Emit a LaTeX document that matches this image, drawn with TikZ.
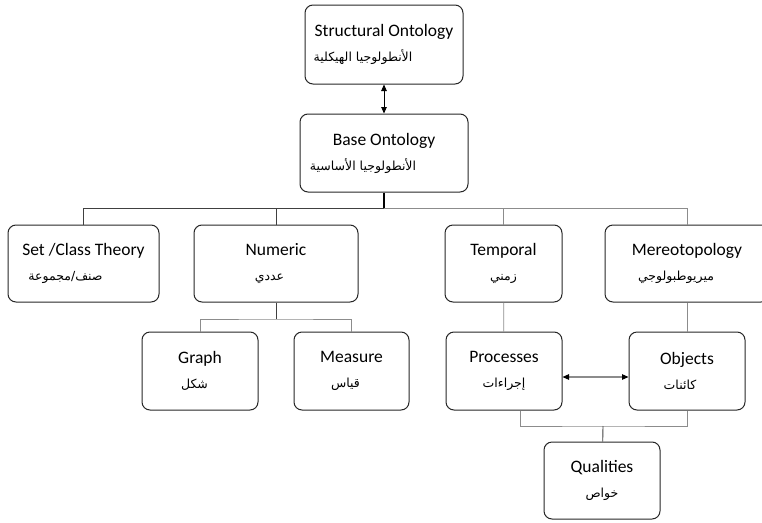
\documentclass[tikz,border=0pt]{standalone}
\usepackage{fontspec}
\setmainfont{Carlito}
\newfontfamily\arabicfont[Script=Arabic]{DejaVu Sans}
\TeXXeTstate=1
\usetikzlibrary{arrows.meta}

% English title over its Arabic name; #1 moves the Arabic line to the left
\newcommand\ontlabel[3][0pt]{#2\\[3pt]{\arabicfont\fontsize{12.5}{14}\selectfont #3}\kern#1}

\begin{document}
\begin{tikzpicture}[x=1pt,y=-1pt,
	onto/.style={draw=black!85,line width=1pt,rounded corners=8pt,align=center,
		font=\fontsize{17.5}{22}\selectfont},
	trunk/.style={draw=black,line width=1.7pt},
	link/.style={draw=black!75,line width=0.9pt},
	lightlink/.style={draw=black!45,line width=0.8pt},
	tips/.style={{Triangle[length=6.5pt,width=5.5pt,color=black]}-{Triangle[length=6.5pt,width=5.5pt,color=black]}}]
	\useasboundingbox (0,0) rectangle (762,522);
	\node [onto,minimum width=158pt,minimum height=79pt] (structural) at (384,44.5) {\ontlabel[42pt]{Structural Ontology}{\beginR الأنطولوجيا الهيكلية\endR}};
	\node [onto,minimum width=168pt,minimum height=78pt] (base) at (384,153) {\ontlabel[42pt]{Base Ontology}{\beginR الأنطولوجيا الأساسية\endR}};
	\node [onto,minimum width=151pt,minimum height=77pt] (set) at (83.5,263.5) {\ontlabel[36pt]{Set /Class Theory}{\beginR صنف/مجموعة\endR}};
	\node [onto,minimum width=164pt,minimum height=77pt] (numeric) at (276,263.5) {\ontlabel[13pt]{Numeric}{\beginR عددي\endR}};
	\node [onto,minimum width=117pt,minimum height=77pt] (temporal) at (503.5,263.5) {\ontlabel{Temporal}{\beginR زمني\endR}};
	\node [onto,minimum width=164pt,minimum height=77pt] (mereo) at (687,263.5) {\ontlabel[22pt]{Mereotopology}{\beginR ميريوطبولوجي\endR}};
	\node [onto,minimum width=116pt,minimum height=78pt] (graph) at (200,371) {\ontlabel[11pt]{Graph}{\beginR شكل\endR}};
	\node [onto,minimum width=115pt,minimum height=78pt] (measure) at (351.5,371) {\ontlabel[12pt]{Measure}{\beginR قياس\endR}};
	\node [onto,minimum width=116pt,minimum height=78pt] (processes) at (504,371) {\ontlabel{Processes}{\beginR إجراءات\endR}};
	\node [onto,minimum width=116pt,minimum height=78pt] (objects) at (687,371) {\ontlabel[14pt]{Objects}{\beginR كائنات\endR}};
	\node [onto,minimum width=116pt,minimum height=77pt] (qualities) at (602,480.5) {\ontlabel{Qualities}{\beginR خواص\endR}};
	\coordinate (split) at (384,208);
	\coordinate (nsplit) at (276,319);
	\coordinate (qsplit) at (603,426);
	\draw [black,line width=0.9pt,tips] (structural) -- (base);
	\draw [trunk] (base) -- (split);
	\draw [link] (split) -| (set);
	\draw [link] (numeric) |- (split);
	\draw [lightlink] (split) -| (temporal);
	\draw [lightlink] (split) -| (mereo);
	\draw [link] (numeric) -- (nsplit);
	\draw [lightlink] (graph) |- (nsplit) -| (measure);
	\draw [lightlink] (temporal) -- (processes);
	\draw [lightlink] (mereo) -- (objects);
	\draw [lightlink,line width=1.1pt,tips] ([yshift=-6pt]processes.east) -- ([yshift=-6pt]objects.west);
	\draw [lightlink] ([xshift=16pt]processes.south) |- (qsplit) -| (objects.south);
	\draw [link] (qsplit) -- (qualities);
\end{tikzpicture}
\end{document}
